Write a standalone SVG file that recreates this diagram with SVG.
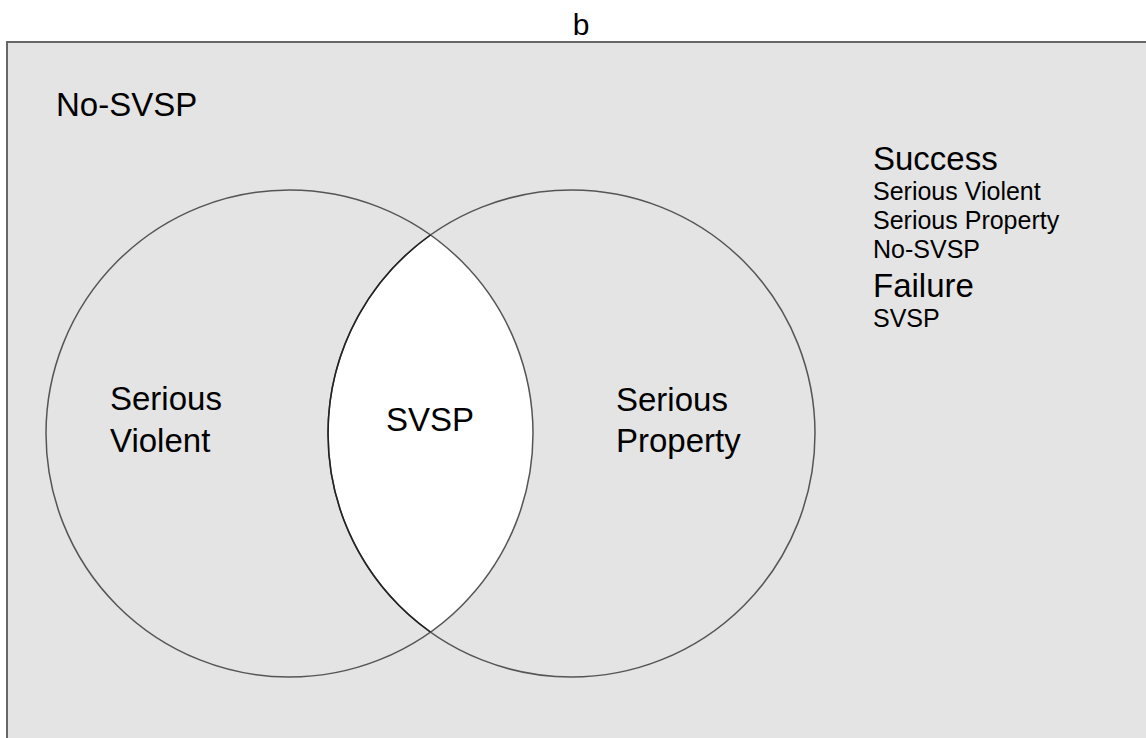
<svg xmlns="http://www.w3.org/2000/svg" width="1146" height="738" viewBox="0 0 1146 738">
<style>
text{font-family:"Liberation Sans",Arial,sans-serif;fill:#000}
.big{font-size:33px}
.small{font-size:25px}
.circ{fill:none;stroke:#555;stroke-width:1.5}
</style>
<rect x="0" y="0" width="1146" height="738" fill="#ffffff"/>
<text x="581" y="35" font-size="30" text-anchor="middle">b</text>
<g id="universe">
<rect x="7" y="42" width="1160" height="720" fill="#e4e4e4" stroke="#666" stroke-width="2"/>
<text class="big" x="56" y="116">No-SVSP</text>
</g>
<g id="intersection">
<path d="M430.5 235 A243.5 243.5 0 0 0 430.5 632 A243.5 243.5 0 0 0 430.5 235 Z" fill="#ffffff"/>
</g>
<g id="connectors">
<circle class="circ" cx="289.5" cy="433.5" r="243.5"/>
<circle class="circ" cx="571.5" cy="433.5" r="243.5"/>
<path d="M430.5 235 A243.5 243.5 0 0 0 430.5 632" fill="none" stroke="#222" stroke-width="1.5"/>
</g>
<g id="serious-violent">
<text class="big" x="110" y="410">Serious</text>
<text class="big" x="110" y="452">Violent</text>
</g>
<g id="svsp">
<text class="big" x="386" y="431">SVSP</text>
</g>
<g id="serious-property">
<text class="big" x="616" y="411">Serious</text>
<text class="big" x="616" y="452">Property</text>
</g>
<g id="legend">
<text class="big" x="873" y="170">Success</text>
<text class="small" x="873" y="200">Serious Violent</text>
<text class="small" x="873" y="229">Serious Property</text>
<text class="small" x="873" y="258">No-SVSP</text>
<text class="big" x="873" y="297">Failure</text>
<text class="small" x="873" y="327">SVSP</text>
</g>
</svg>
